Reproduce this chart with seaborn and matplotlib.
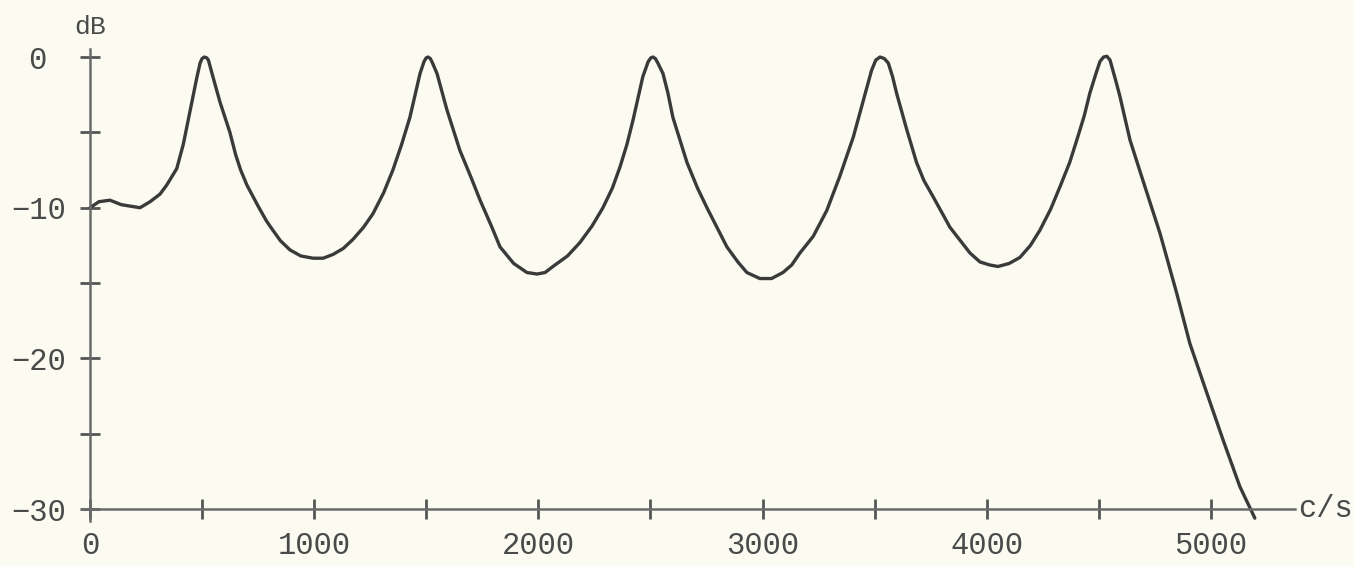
"""Frequency response with five resonance peaks (typewriter-style plot)."""
import matplotlib
matplotlib.use("Agg")
import matplotlib.pyplot as plt
from matplotlib.ticker import MultipleLocator, FuncFormatter
import seaborn as sns

# (frequency c/s, level dB)
response_points = [
    (0, -10.0), (40, -9.6), (89, -9.5), (140, -9.8), (223, -10.0), (268, -9.6),
    (312, -9.1), (342, -8.5), (387, -7.4), (416, -5.8), (446, -3.6), (476, -1.4),
    (491, -0.4), (500, -0.1), (510, 0.0), (520, -0.05), (528, -0.2), (550, -1.4),
    (580, -3.0), (624, -5.0), (650, -6.5), (672, -7.5), (700, -8.5), (750, -9.9),
    (788, -10.9), (816, -11.5), (850, -12.2), (892, -12.8), (940, -13.2),
    (995, -13.35), (1040, -13.35), (1084, -13.1), (1130, -12.7), (1173, -12.1),
    (1220, -11.3), (1262, -10.4), (1310, -9.0), (1351, -7.5), (1390, -5.8),
    (1427, -4.0), (1452, -2.4), (1472, -1.1), (1490, -0.3), (1500, -0.05),
    (1508, 0.0), (1518, -0.1), (1528, -0.4), (1548, -1.1), (1570, -2.3),
    (1592, -3.5), (1650, -6.2), (1700, -8.0), (1740, -9.5), (1790, -11.2),
    (1829, -12.6), (1890, -13.7), (1949, -14.3), (1994, -14.4), (2030, -14.3),
    (2065, -13.9), (2130, -13.2), (2186, -12.3), (2240, -11.2), (2288, -10.0),
    (2330, -8.7), (2364, -7.3), (2395, -5.8), (2422, -4.2), (2446, -2.6),
    (2466, -1.3), (2490, -0.3), (2502, -0.05), (2511, 0.0), (2522, -0.1),
    (2533, -0.4), (2556, -1.1), (2578, -2.4), (2600, -4.0), (2663, -7.0),
    (2710, -8.7), (2752, -10.0), (2800, -11.4), (2841, -12.6), (2890, -13.6),
    (2930, -14.3), (2988, -14.7), (3040, -14.7), (3091, -14.3), (3130, -13.8),
    (3167, -13.0), (3226, -11.9), (3286, -10.2), (3345, -7.9), (3405, -5.3),
    (3449, -2.9), (3486, -0.9), (3505, -0.2), (3524, 0.0), (3543, -0.1),
    (3561, -0.4), (3580, -1.3), (3598, -2.4), (3643, -4.8), (3687, -7.0),
    (3720, -8.2), (3762, -9.3), (3836, -11.3), (3925, -13.0), (3970, -13.6),
    (4014, -13.8), (4050, -13.9), (4100, -13.7), (4148, -13.3),
    (4195, -12.5), (4237, -11.5), (4285, -10.1), (4327, -8.6), (4370, -7.0),
    (4402, -5.5), (4435, -3.9), (4460, -2.4), (4485, -1.2), (4505, -0.3),
    (4521, 0.0), (4536, 0.05), (4550, -0.2), (4563, -0.9), (4578, -1.7),
    (4594, -2.6), (4639, -5.5), (4697, -8.2), (4773, -11.7), (4848, -15.7),
    (4906, -19.0), (4982, -22.3), (5054, -25.4), (5129, -28.5), (5196, -30.6),
]
freq = [p[0] for p in response_points]
level = [p[1] for p in response_points]

x_major = [0, 1000, 2000, 3000, 4000, 5000]
y_major = [0, -10, -20, -30]

paper = "#fbfbf2"
ink = "#3a3a3a"

sns.set_theme(style="white")
plt.rcParams["font.family"] = ["Liberation Mono", "DejaVu Sans Mono"]

fig = plt.figure(figsize=(13.54, 5.66), dpi=100, facecolor=paper)
ax = fig.add_axes([0.0582, 0.0606, 0.8982, 0.8546], facecolor=paper)

sns.lineplot(x=freq, y=level, ax=ax, color=ink, linewidth=2.4, sort=False,
             estimator=None, solid_joinstyle="round", solid_capstyle="round")

ax.set_xlim(-50, 5375)
ax.set_ylim(-31.5, 0.6)

# axes crossing at the origin, like the hand drawn figure
for side in ("top", "right"):
    ax.spines[side].set_visible(False)
ax.spines["left"].set_position(("data", 0))
ax.spines["bottom"].set_position(("data", -30))
ax.spines["left"].set_bounds(-30.8, 0.55)
ax.spines["bottom"].set_bounds(-35, 5375)
for side in ("left", "bottom"):
    ax.spines[side].set_color("#6a6a6a")
    ax.spines[side].set_linewidth(1.8)

ax.xaxis.set_minor_locator(MultipleLocator(500))
ax.yaxis.set_minor_locator(MultipleLocator(5))
ax.set_xticks(x_major)
ax.set_yticks(y_major)
# typewriter alignment: the 0 sits in the tens column
ax.yaxis.set_major_formatter(
    FuncFormatter(lambda v, _: "0 " if v == 0 else f"{v:.0f}".replace("-", "\u2212")))

ax.tick_params(which="both", direction="inout", length=15, width=2.0, color="#555555",
               labelsize=22, labelcolor="#4a4a4a")
ax.tick_params(axis="x", which="both", bottom=True, pad=8)
ax.tick_params(axis="y", which="both", left=True, pad=10)
ax.grid(False)

ax.text(0, 1.2, "dB", ha="center", va="bottom", fontsize=19, color="#4a4a4a",
        transform=ax.transData, clip_on=False)
ax.text(5390, -30, "c/s", ha="left", va="center", fontsize=22, color="#4a4a4a",
        transform=ax.transData, clip_on=False)

plt.savefig("out.png", dpi=100, facecolor=paper)
plt.close()
